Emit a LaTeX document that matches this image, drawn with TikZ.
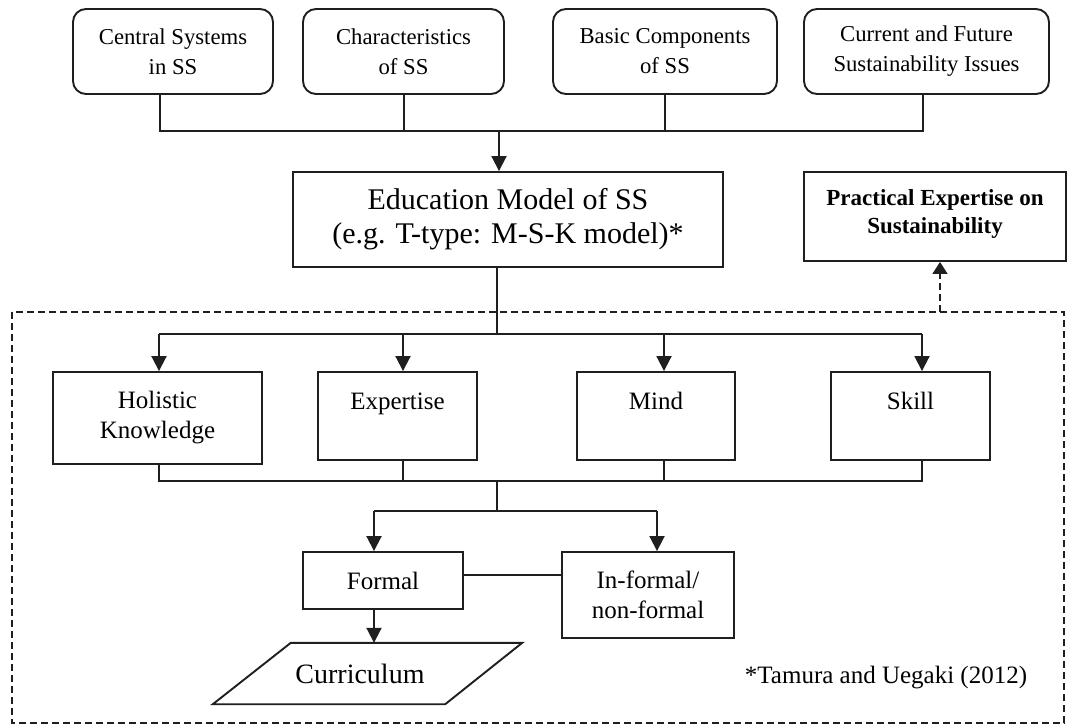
\documentclass[tikz,border=0pt]{standalone}
\usepackage{fontspec}
\setmainfont{Liberation Serif}
\usetikzlibrary{arrows.meta}
\begin{document}
\begin{tikzpicture}[x=1pt,y=-1pt,
  ln/.style={line width=1.9pt, draw=black!88},
  arr/.style={ln, -{Triangle[width=15pt,length=15pt]}},
  topbox/.style={ln, draw, rounded corners=13pt, inner sep=0pt, align=center,
    font=\fontsize{22.7}{30}\selectfont},
  midbox/.style={ln, draw, inner sep=0pt, align=center,
    font=\fontsize{25}{30}\selectfont},
  dashbox/.style={line width=1.7pt, draw=black!88, dash pattern=on 7pt off 4pt}]
\useasboundingbox (0,0) rectangle (1092,724);
% top boxes
\node[topbox, minimum width=200pt, minimum height=85pt] (c1) at (173,51.5) {Central Systems\\in SS};
\node[topbox, minimum width=201pt, minimum height=85pt] (c2) at (403.5,51.5) {Characteristics\\of SS};
\node[topbox, minimum width=224pt, minimum height=85pt] (c3) at (665,51.5) {Basic Components\\of SS};
\node[topbox, minimum width=245pt, minimum height=85pt] (c4) at (926.5,51.5) {Current and Future\\Sustainability Issues};
\coordinate (j1) at (499,131);
\draw[ln] ([xshift=-13pt]c1.south) |- (j1);
\draw[ln] ([xshift=0.5pt]c2.south) -- ([xshift=0.5pt]c2.south |- j1);
\draw[ln] (c3.south) -- (c3.south |- j1);
\draw[ln] ([xshift=-3.5pt]c4.south) |- (j1);
% education model
\node[ln, draw, inner sep=0pt, align=center, minimum width=430pt, minimum height=95pt,
  font=\fontsize{30}{34}\selectfont] (edu) at (508,219.5) {Education Model of SS\\(e.g. T-type: M-S-K model)*};
\draw[arr] (j1) -- (j1 |- edu.north);
% practical expertise
\node[ln, draw, inner sep=0pt, align=center, minimum width=262pt, minimum height=89pt,
  font=\fontsize{23}{28}\selectfont\bfseries] (prac) at (935,216.5) {Practical Expertise on\\Sustainability\\[-18pt]\mbox{}};
% dashed region
\draw[dashbox] (12,312) rectangle (1064,723);
\coordinate (d1) at (940,312);
\draw[dashbox, -{Triangle[width=15pt,length=12pt]}] (d1) -- (d1 |- prac.south);
% four components
\node[midbox, minimum width=209pt, minimum height=92pt] (hk) at (157.5,418) {Holistic\\Knowledge};
\node[midbox, minimum width=159pt, minimum height=88pt] (ex) at (397.5,416) {Expertise\\\mbox{}};
\node[midbox, minimum width=158pt, minimum height=88pt] (mi) at (656,416) {Mind\\\mbox{}};
\node[midbox, minimum width=159pt, minimum height=88pt] (sk) at (910.5,416) {Skill\\\mbox{}};
\coordinate (j2) at (497,334);
\draw[ln] (edu.south -| j2) -- (j2);
\draw[ln] ([xshift=1.5pt]hk.north |- j2) -- ([xshift=11.5pt]sk.north |- j2);
\draw[arr] ([xshift=1.5pt]hk.north |- j2) -- ([xshift=1.5pt]hk.north);
\draw[arr] ([xshift=5.5pt]ex.north |- j2) -- ([xshift=5.5pt]ex.north);
\draw[arr] ([xshift=8pt]mi.north |- j2) -- ([xshift=8pt]mi.north);
\draw[arr] ([xshift=11.5pt]sk.north |- j2) -- ([xshift=11.5pt]sk.north);
\coordinate (j3) at (497,481);
\draw[ln] ([xshift=1.5pt]hk.south) |- ([xshift=11.5pt]sk.south |- j3) -- ([xshift=11.5pt]sk.south);
\draw[ln] ([xshift=5.5pt]ex.south) -- ([xshift=5.5pt]ex.south |- j3);
\draw[ln] ([xshift=8pt]mi.south) -- ([xshift=8pt]mi.south |- j3);
% formal / informal
\node[midbox, minimum width=160pt, minimum height=57pt] (fo) at (383,580.5) {Formal};
\node[midbox, minimum width=172pt, minimum height=86pt] (inf) at (648,595) {In-formal/\\non-formal};
\coordinate (j4) at (497,511);
\draw[ln] (j3) -- (j4);
\draw[ln] ([xshift=-9pt]fo.north |- j4) -- ([xshift=9pt]inf.north |- j4);
\draw[arr] ([xshift=-9pt]fo.north |- j4) -- ([xshift=-9pt]fo.north);
\draw[arr] ([xshift=9pt]inf.north |- j4) -- ([xshift=9pt]inf.north);
\draw[ln] ([yshift=5.5pt]fo.east) -- ([yshift=5.5pt]fo.east -| inf.west);
% curriculum
\node[inner sep=0pt, minimum width=309pt, minimum height=61pt,
  font=\fontsize{28}{32}\selectfont] (cur) at (367.5,673.5) {\hspace*{-15pt}Curriculum};
\draw[ln] (cur.south west) -- ([xshift=-77pt]cur.south east) -- (cur.north east)
  -- ([xshift=78pt]cur.north west) -- cycle;
\draw[arr] ([xshift=-9pt]fo.south) -- ([xshift=-9pt]fo.south |- cur.north);
% footnote
\node[inner sep=0pt, font=\fontsize{25}{30}\selectfont] (fn) at (886,678) {*Tamura and Uegaki (2012)};
\end{tikzpicture}
\end{document}
